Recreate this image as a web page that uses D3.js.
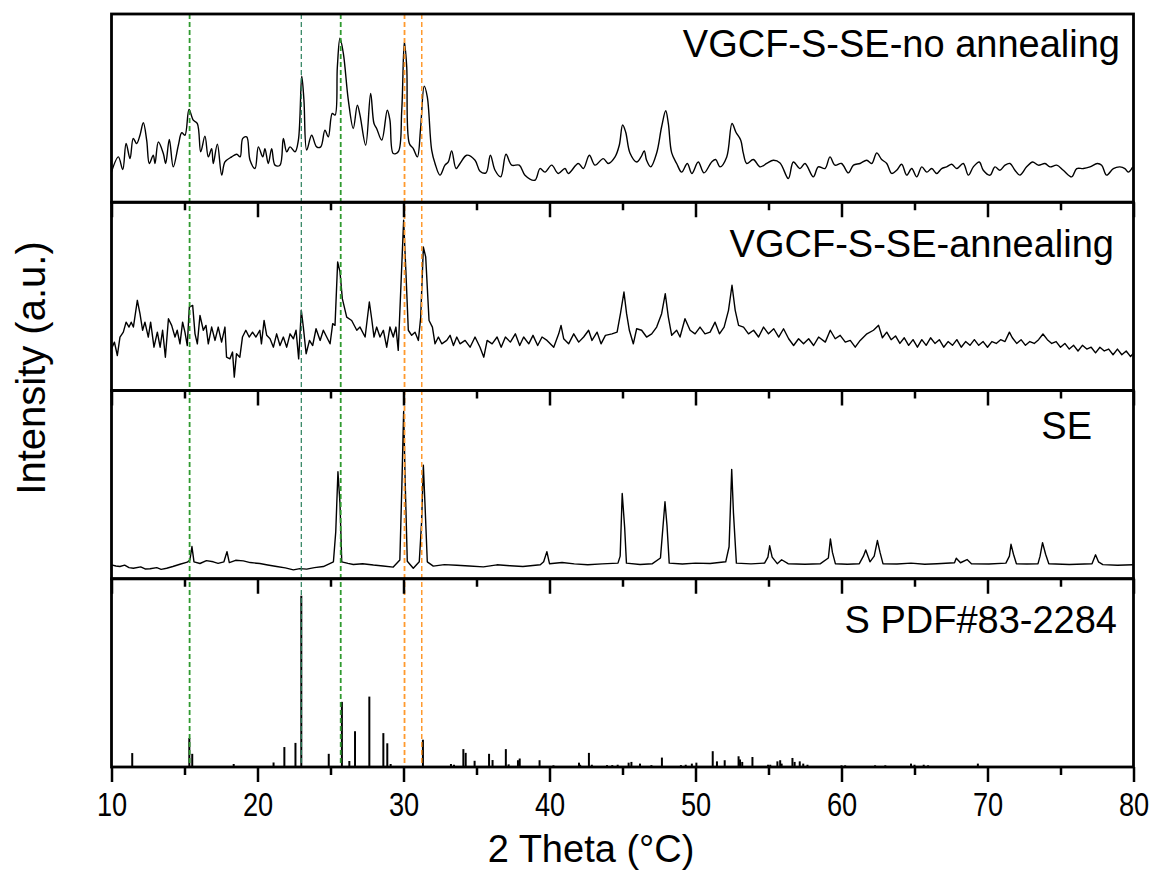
<!DOCTYPE html>
<html>
<head>
<meta charset="utf-8">
<title>XRD stack</title>
<script src="https://cdn.jsdelivr.net/npm/d3@7"></script>
<style>
body { margin: 0; background: #fff; }
text { font-family: "Liberation Sans", Arial, sans-serif; fill: #000; }
</style>
</head>
<body>
<script>
// 2theta ticks
var majorTicks = [10, 20, 30, 40, 50, 60, 70, 80];
var minorTicks = [15, 25, 35, 45, 55, 65, 75];

var panelLabels = ["VGCF-S-SE-no annealing", "VGCF-S-SE-annealing", "SE", "S PDF#83-2284"];

// dashed reference positions (2theta)
var refLines = [15.35, 23.0, 25.7, 30.07, 31.25];

// intensities, a.u. (0-100 of each panel)
var noAnnealing = [[10.0,16.1],[10.47,24.1],[10.77,17.4],[11.0,31.2],[11.27,23.2],[11.49,33.9],[11.72,31.2],[11.95,35.6],[12.18,42.2],[12.41,33],[12.59,20.6],[12.86,25],[12.98,20.6],[13.21,32],[13.55,25.9],[13.71,20.6],[13.96,33.3],[14.23,18.8],[14.58,30.3],[14.81,36.9],[15.03,35.6],[15.31,49.3],[15.6,43.6],[15.88,41.8],[16.11,26.8],[16.4,35.1],[16.63,24.1],[16.86,28.5],[16.97,20.6],[17.25,30.9],[17.55,14.4],[17.77,21.4],[18.23,24.1],[18.58,25.5],[18.81,24.1],[18.99,33.9],[19.26,34.7],[19.49,22.3],[19.83,17.9],[20.06,29.4],[20.36,24.1],[20.51,28.5],[20.74,20.6],[20.97,28.5],[21.2,19.7],[21.54,19.7],[21.77,33.9],[22.0,26.8],[22.23,29.4],[22.57,26.8],[22.8,33],[23.03,67],[23.18,54.3],[23.37,27.7],[23.71,35.6],[24.05,29.4],[24.33,29.4],[24.62,38.3],[24.85,34.7],[25.12,47.2],[25.31,46.3],[25.47,72],[25.65,87.1],[25.88,79.1],[26.22,54.3],[26.56,39.2],[26.84,51.6],[27.02,46.3],[27.41,30.3],[27.75,57.8],[27.98,41.8],[28.16,39.2],[28.51,33],[28.89,48.9],[29.07,43.6],[29.3,25.9],[29.64,26.8],[29.88,48.9],[30.06,85.3],[30.22,72],[30.4,31.2],[30.67,28.5],[30.95,24.1],[31.17,39.2],[31.42,61.7],[31.63,56],[31.93,27.7],[32.16,20.6],[32.5,14.4],[32.84,19.7],[33.07,21.4],[33.3,27.3],[33.6,17.9],[33.87,20.6],[34.33,25],[34.9,22.3],[35.24,16.5],[35.65,15.6],[35.95,25],[36.27,17],[36.66,13.5],[37.02,25.5],[37.41,19.7],[37.93,19.7],[38.32,14.4],[39.0,11.7],[39.35,17.9],[39.69,16],[40.15,19.7],[40.6,15.3],[41.06,17.9],[41.29,15.3],[41.97,20.6],[42.32,17.9],[42.73,25],[43.12,19.7],[43.68,23.2],[44.03,20.6],[44.49,24.1],[44.78,30.3],[45.01,41],[45.22,37.2],[45.51,26.2],[45.97,21.4],[46.27,24.1],[46.49,27.3],[46.65,22.3],[46.93,18.8],[47.34,26.2],[47.68,40.1],[47.96,48.6],[48.14,41.8],[48.37,26.2],[48.71,20.6],[49.05,16],[49.44,20.6],[49.75,15.3],[50.19,21.4],[50.58,15.6],[51.11,21.4],[51.38,22.7],[51.68,18.8],[52.14,24.1],[52.5,41.8],[52.77,37.2],[53.1,33],[53.27,26.2],[53.51,20.6],[53.96,22.7],[54.42,18.8],[54.88,20.6],[55.33,22.3],[55.79,20.9],[56.36,12.6],[56.7,21.4],[57.16,17.9],[57.5,20.6],[58.07,13.5],[58.41,18.8],[58.87,17.9],[59.21,24.1],[59.55,19.7],[60.0,20.6],[60.47,15.6],[60.82,19.7],[61.27,20.6],[61.73,22.3],[62.07,20.6],[62.41,26.2],[62.75,22.7],[63.1,20.6],[63.44,15.3],[63.78,17],[64.12,20.2],[64.47,14.4],[64.81,17.9],[65.15,13.5],[65.5,18.8],[65.84,16],[66.18,17.9],[66.52,15.3],[66.86,17.9],[67.2,18.8],[67.55,20.2],[67.89,17.9],[68.34,20.6],[68.69,14.4],[69.03,18.8],[69.44,21.4],[69.71,17],[70.17,14.4],[70.51,18.8],[70.85,17],[71.2,19.7],[71.54,20.6],[71.88,17],[72.22,14.4],[72.68,18.8],[73.09,21.4],[73.48,19.7],[73.94,20.6],[74.28,18.8],[74.74,19.7],[75.19,17],[75.77,13.5],[76.11,17.9],[76.57,17.9],[77.02,18.8],[77.52,20.6],[77.82,19.7],[78.16,14.4],[78.62,17.9],[79.07,18.8],[79.41,17.9],[79.64,16],[79.95,18.8]];

var annealing = [[10.0,22.2],[10.2,25.7],[10.4,18.6],[10.58,28.4],[10.81,31],[11.0,36.3],[11.2,33.7],[11.35,36.3],[11.5,33.7],[11.77,47.9],[11.95,40.8],[12.13,32],[12.29,36.3],[12.52,28.4],[12.68,36.3],[12.91,23],[13.14,31],[13.33,23],[13.5,32],[13.69,17.7],[13.9,38.1],[14.12,34.6],[14.35,28.4],[14.5,32],[14.69,24.8],[14.87,36.3],[15.03,31],[15.19,23.9],[15.33,44.3],[15.56,45.2],[15.72,30.1],[15.88,24.8],[16.06,39.9],[16.29,32],[16.47,34.6],[16.63,24.8],[16.86,33.7],[17.09,26.6],[17.31,33.7],[17.54,25.7],[17.77,33.7],[17.88,17.7],[18.11,16.8],[18.29,20.4],[18.41,7.1],[18.56,19.5],[18.79,17.7],[18.97,28.4],[19.2,32],[19.43,28.4],[19.66,31],[19.89,28.4],[20.16,32],[20.27,24.8],[20.45,37.2],[20.63,29.3],[20.86,27.5],[21.09,23],[21.31,30.1],[21.54,23.9],[21.77,28.4],[22.0,23],[22.23,30.1],[22.46,27.5],[22.64,32],[22.82,16.8],[23.0,42.6],[23.14,33.7],[23.33,19.5],[23.56,26.6],[23.78,23.9],[24.01,32.8],[24.29,26.6],[24.51,32],[24.74,28.4],[24.97,24.8],[25.15,35.5],[25.31,34.6],[25.49,68.3],[25.65,63],[25.81,48.8],[26.11,39],[26.45,37.2],[26.8,32],[27.02,33.7],[27.37,28.4],[27.66,47],[27.82,38.1],[27.98,28.4],[28.16,33.7],[28.39,28.4],[28.62,32],[28.85,23],[29.07,33.7],[29.3,28.4],[29.48,33.7],[29.64,21.3],[29.82,55],[30.01,90.4],[30.17,62],[30.33,32],[30.56,29.3],[30.79,31],[31.02,26.6],[31.18,39],[31.36,76.2],[31.52,71],[31.75,37.2],[31.98,33.7],[32.16,24.8],[32.39,28.4],[32.62,24.8],[32.96,26.6],[33.19,29.3],[33.42,23.9],[33.65,28.4],[33.87,24.8],[34.22,26.6],[34.56,23],[34.9,28.4],[35.24,23],[35.5,17.7],[35.73,26.6],[36.07,24.8],[36.41,28.4],[36.69,23],[36.98,28.4],[37.32,25.7],[37.66,30.1],[37.96,23.9],[38.23,28.4],[38.58,24.8],[38.87,29.3],[39.19,23.9],[39.49,28.4],[39.83,26.6],[40.29,23],[40.63,30.1],[40.79,34.6],[40.97,27.5],[41.31,24.8],[41.66,30.1],[42.0,25.7],[42.34,28.4],[42.68,32],[42.91,26.6],[43.26,31],[43.53,24.8],[43.83,29.3],[44.28,30.1],[44.63,31],[44.86,40.8],[45.1,52.3],[45.28,40.8],[45.47,32],[45.74,24.8],[45.97,32.8],[46.31,32],[46.65,28.4],[47.0,30.1],[47.34,33.7],[47.68,40.8],[47.93,51.4],[48.14,39],[48.37,29.3],[48.71,32],[48.94,28.4],[49.28,38.1],[49.63,32],[49.97,30.1],[50.31,33.7],[50.65,30.1],[51.0,31],[51.34,36.3],[51.64,30.1],[51.96,33.7],[52.26,42.6],[52.5,55.9],[52.72,42.6],[52.95,34.6],[53.29,33.7],[53.63,30.1],[53.98,32],[54.32,28.4],[54.66,33.7],[55.0,30.1],[55.36,32.8],[55.7,28.4],[56.03,32.8],[56.38,27.5],[56.72,23.9],[57.06,27.5],[57.4,24.8],[57.75,27.5],[58.09,23.9],[58.43,28.4],[58.89,25.7],[59.23,32],[59.57,27.5],[59.91,29.3],[60.26,25.7],[60.6,26.6],[60.94,23],[61.28,26.6],[61.74,30.1],[62.19,32],[62.54,34.6],[62.8,28],[63.1,31],[63.4,27],[63.7,29],[64.0,25],[64.3,28],[64.6,24],[64.9,27],[65.2,23],[65.5,27],[65.8,24],[66.1,28],[66.4,25],[66.7,27],[67.0,23],[67.3,26],[67.6,24],[67.9,27],[68.2,23],[68.5,26],[68.8,24],[69.1,27],[69.4,24],[69.7,26],[70.0,23],[70.3,26],[70.6,25],[70.9,27],[71.2,26],[71.5,31],[71.7,28],[72.0,25],[72.3,27],[72.6,24],[72.9,26],[73.2,25],[73.5,27],[73.8,30],[74.1,27],[74.4,25],[74.7,26],[75.0,23],[75.3,25],[75.6,22],[75.9,24],[76.2,21],[76.5,24],[76.8,22],[77.1,23],[77.4,20],[77.7,23],[78.0,21],[78.3,22],[78.6,19],[78.9,22],[79.2,19],[79.5,21],[79.8,18],[80.0,20]];

var se = [[10.0,7.4],[10.3,6.8],[10.58,6.5],[10.9,7.2],[11.2,5.9],[11.5,5.6],[12.0,6.3],[12.3,5.2],[12.64,5.3],[13.1,5.9],[13.4,5.0],[13.78,5.6],[14.2,6.5],[14.69,7.7],[15.19,8.8],[15.37,10],[15.51,17.1],[15.65,9],[16.06,8.1],[16.5,9.6],[16.97,9],[17.3,8.2],[17.7,9],[17.91,14.4],[18.07,8.6],[18.5,9.8],[19.03,9.5],[19.5,8.6],[20.16,8.1],[20.7,7.3],[21.31,6.5],[21.9,5.8],[22.46,4.7],[22.9,5.4],[23.37,5.1],[23.9,5.9],[24.51,6.5],[25.2,9],[25.36,25],[25.51,56.8],[25.65,40],[25.77,9],[26.2,8.2],[26.56,7.6],[27.2,8],[27.94,7.3],[28.6,6.8],[29.3,6.2],[29.75,10],[29.89,50],[30.01,88.9],[30.12,50],[30.26,9.3],[30.67,5.6],[31.08,9],[31.24,30],[31.36,60.3],[31.47,40],[31.63,9],[32.04,6.7],[32.8,7.5],[33.65,7.2],[34.5,6.8],[35.47,6.3],[36.4,7.4],[37.3,6.9],[38.18,6.5],[39.37,7.4],[39.6,9],[39.82,14.4],[40.0,8],[40.86,8.6],[41.7,7.9],[42.62,7.4],[43.6,7.9],[44.69,8.3],[44.84,12],[44.98,45.3],[45.15,27],[45.27,8.3],[46.2,7.6],[47.05,8],[47.6,11],[47.91,40.9],[48.05,28],[48.2,8.3],[49.1,7.8],[50.0,8.3],[51.0,8.1],[52.07,9],[52.3,17],[52.48,58],[52.6,35],[52.8,8.3],[53.8,7.9],[54.73,8.3],[54.96,11.5],[55.08,17.5],[55.25,11.5],[55.6,8],[55.9,10.1],[56.34,8],[57.5,7.7],[58.56,8],[59.1,11],[59.24,21.2],[59.38,14],[59.58,8],[60.4,7.7],[61.22,8],[61.5,12],[61.66,15.3],[61.95,9],[62.24,12],[62.46,20.3],[62.64,14],[62.84,8],[63.8,7.8],[64.76,8.3],[65.7,7.7],[66.54,8],[67.74,8.5],[67.86,10.9],[68.15,8.5],[68.6,10.2],[68.9,8],[70.1,7.8],[71.26,8.3],[71.5,12],[71.61,18.3],[71.78,13],[71.98,8],[72.7,7.8],[73.46,8],[73.6,12],[73.77,19.2],[73.98,13],[74.2,8],[75.6,7.6],[77.16,8],[77.4,12.7],[77.6,9],[77.9,7.5],[78.9,7.2],[79.97,7.4]];

var pdfSticks = [[11.42,7.4],[15.33,15.4],[15.53,7],[18.37,1.6],[21.1,2.4],[21.84,10.6],[22.6,12.8],[23.0,91],[24.88,7],[25.78,34.6],[26.29,3.2],[26.68,19],[27.66,37.4],[28.62,18],[28.89,12.6],[29.12,1.6],[31.33,14.5],[33.25,1.6],[33.46,1.2],[34.1,9.5],[34.26,7.5],[34.87,3.3],[35.86,7],[36.1,3.7],[37.01,9.5],[37.2,1.4],[37.84,3.6],[37.96,4.5],[39.32,3.6],[40.27,0.9],[42.02,2.3],[42.1,1.2],[42.7,7.5],[42.9,1.2],[43.94,1],[44.3,1],[44.67,1.2],[45.42,2.3],[45.61,2.7],[46.2,1.8],[46.98,1],[47.7,5],[49.0,1],[49.33,1.2],[49.75,1.8],[50.06,2.3],[51.18,8.4],[51.47,3],[52.0,3.6],[52.95,5.7],[53.05,4],[53.2,2.7],[53.9,5.3],[54.97,1.2],[55.12,1.2],[55.61,3],[55.8,3.6],[55.9,1.8],[56.64,4.8],[56.79,2.7],[57.14,3],[57.38,1.8],[57.67,1.2],[59.0,0.5],[60.0,0.9],[60.25,0.9],[60.45,0.5],[61.7,0.5],[62.3,0.9],[63.0,0.9],[64.76,1.8],[65.0,1.2],[65.63,1.2],[65.93,0.9],[67.25,0.5],[68.1,0.5],[68.7,0.5],[69.34,1.8],[71.2,0.5],[71.5,0.5],[71.9,0.5],[72.3,0.5],[72.6,0.5],[73.0,0.5],[74.3,0.5],[77.8,0.5],[78.6,0.5]];

var w = 1156, h = 876;
var plotLeft = 111.5, plotRight = 1133.5, plotTop = 14, plotBottom = 767;
var panelH = (plotBottom - plotTop) / 4;

var refColors = ["#2f9a2f", "#2a7f5a", "#2f9a2f", "#ff9a2e", "#ff9a2e"];
var refWidths = [1.8, 1.2, 1.8, 1.8, 1.5];

var svg = d3.select("body").append("svg")
    .attr("width", w)
    .attr("height", h);

svg.append("rect").attr("width", w).attr("height", h).attr("fill", "#fff");

var x = d3.scaleLinear().domain([10, 80]).range([plotLeft, plotRight]);
var ys = d3.range(4).map(function(i) {
  return d3.scaleLinear().domain([0, 100])
           .range([plotTop + (i + 1) * panelH, plotTop + i * panelH]);
});

// curves
var series = [noAnnealing, annealing, se];
var curves = [d3.curveCatmullRom, d3.curveLinear, d3.curveLinear];
series.forEach(function(data, i) {
  var line = d3.line()
      .x(function(d) { return x(d[0]); })
      .y(function(d) { return ys[i](d[1]); })
      .curve(curves[i]);
  svg.append("path")
     .datum(data)
     .attr("d", line)
     .attr("fill", "none")
     .attr("stroke", "#000")
     .attr("stroke-width", 1.4)
     .attr("stroke-linejoin", "round");
});

// reference pattern sticks
svg.append("g").selectAll("line")
   .data(pdfSticks)
   .enter()
   .append("line")
   .attr("x1", function(d) { return x(d[0]); })
   .attr("x2", function(d) { return x(d[0]); })
   .attr("y1", ys[3](0))
   .attr("y2", function(d) { return ys[3](d[1]); })
   .attr("stroke", "#000")
   .attr("stroke-width", 2);

// dashed guides
svg.append("g").selectAll("line")
   .data(refLines)
   .enter()
   .append("line")
   .attr("x1", function(d) { return x(d); })
   .attr("x2", function(d) { return x(d); })
   .attr("y1", plotTop)
   .attr("y2", plotBottom)
   .attr("stroke", function(d, i) { return refColors[i]; })
   .attr("stroke-width", function(d, i) { return refWidths[i]; })
   .attr("stroke-dasharray", "5,3");

// axes at the bottom of every panel
for (var i = 0; i < 4; i++) {
  var yb = plotTop + (i + 1) * panelH;
  var major = svg.append("g")
      .attr("transform", "translate(0," + yb + ")")
      .call(d3.axisBottom(x).tickValues(majorTicks).tickSize(15).tickPadding(10)
              .tickFormat(i == 3 ? d3.format("d") : function() { return ""; }));
  var minor = svg.append("g")
      .attr("transform", "translate(0," + yb + ")")
      .call(d3.axisBottom(x).tickValues(minorTicks).tickSize(8).tickFormat(""));
  [major, minor].forEach(function(g) {
    g.select(".domain").remove();
    g.selectAll(".tick line").attr("stroke", "#000").attr("stroke-width", 2.5);
  });
  major.selectAll(".tick text")
       .attr("font-size", 34)
       .attr("font-family", "Liberation Sans, Arial, sans-serif")
       .attr("fill", "#000")
       .attr("transform", "scale(0.8,1)");
}

// panel frames
d3.range(4).forEach(function(i) {
  svg.append("rect")
     .attr("x", plotLeft)
     .attr("y", plotTop + i * panelH)
     .attr("width", plotRight - plotLeft)
     .attr("height", panelH)
     .attr("fill", "none")
     .attr("stroke", "#000")
     .attr("stroke-width", 2.8);
});

// panel labels
var labelX = [1120, 1114, 1092, 1117];
var labelY = [57, 257, 439, 633];
panelLabels.forEach(function(t, i) {
  svg.append("text")
     .attr("x", labelX[i])
     .attr("y", labelY[i])
     .attr("text-anchor", "end")
     .attr("font-size", 38)
     .text(t);
});

// axis titles
svg.append("text")
   .attr("transform", "translate(45,368) rotate(-90)")
   .attr("text-anchor", "middle")
   .attr("font-size", 40)
   .text("Intensity (a.u.)");

svg.append("text")
   .attr("x", 591)
   .attr("y", 862)
   .attr("text-anchor", "middle")
   .attr("font-size", 38)
   .text("2 Theta (\u00B0C)");
</script>
</body>
</html>
